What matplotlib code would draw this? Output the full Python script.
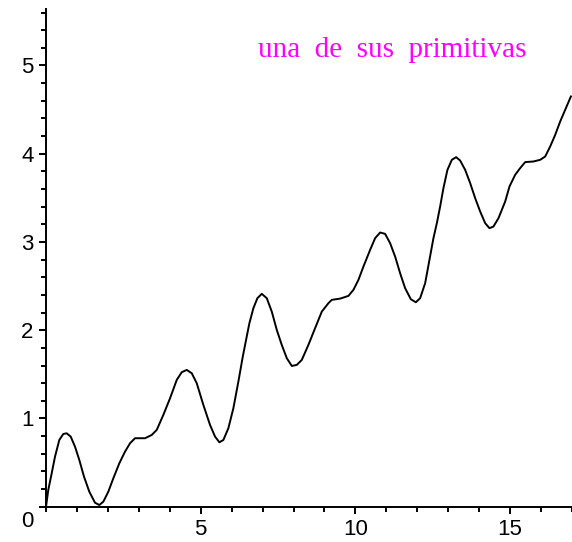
import matplotlib
matplotlib.use("Agg")
import matplotlib.pyplot as plt
from matplotlib.ticker import MultipleLocator

# points
x_vals = [0.0, 0.074, 0.184, 0.291, 0.430, 0.559, 0.669, 0.799, 0.938, 1.077,
          1.229, 1.400, 1.584, 1.723, 1.853, 2.014, 2.176, 2.370, 2.554, 2.716,
          2.877, 3.201, 3.417, 3.579, 3.792, 4.009, 4.226, 4.387, 4.549, 4.711,
          4.872, 5.086, 5.302, 5.464, 5.603, 5.732, 5.894, 6.056, 6.217, 6.360,
          6.466, 6.573, 6.702, 6.832, 6.974, 7.135, 7.297, 7.459, 7.620, 7.782,
          7.944, 8.105, 8.267, 8.480, 8.697, 8.914, 9.127, 9.237, 9.505, 9.774,
          9.935, 10.097, 10.259, 10.475, 10.637, 10.799, 10.960, 11.122, 11.284, 11.445,
          11.607, 11.791, 11.953, 12.092, 12.254, 12.393, 12.522, 12.632, 12.738, 12.845,
          12.974, 13.117, 13.256, 13.385, 13.547, 13.709, 13.870, 14.032, 14.194, 14.333,
          14.462, 14.624, 14.840, 14.979, 15.163, 15.325, 15.487, 15.755, 15.972, 16.133,
          16.295, 16.457, 16.618, 16.780, 16.964]
y_vals = [0.0, 0.19, 0.378, 0.567, 0.756, 0.824, 0.832, 0.794, 0.680, 0.529,
          0.340, 0.170, 0.045, 0.019, 0.057, 0.170, 0.322, 0.492, 0.624, 0.719,
          0.776, 0.776, 0.813, 0.870, 1.040, 1.229, 1.437, 1.524, 1.550, 1.512,
          1.399, 1.153, 0.926, 0.794, 0.730, 0.756, 0.889, 1.116, 1.417, 1.701,
          1.890, 2.079, 2.249, 2.363, 2.412, 2.363, 2.211, 2.003, 1.833, 1.683,
          1.595, 1.607, 1.663, 1.833, 2.023, 2.211, 2.306, 2.344, 2.358, 2.389,
          2.457, 2.570, 2.721, 2.910, 3.043, 3.107, 3.092, 2.986, 2.834, 2.646,
          2.476, 2.351, 2.317, 2.363, 2.533, 2.797, 3.043, 3.213, 3.401, 3.610,
          3.817, 3.931, 3.961, 3.923, 3.817, 3.667, 3.497, 3.345, 3.213, 3.156,
          3.175, 3.270, 3.458, 3.628, 3.761, 3.837, 3.905, 3.912, 3.931, 3.968,
          4.082, 4.214, 4.365, 4.498, 4.649]

x_ticks = [5, 10, 15]
y_ticks = [0, 1, 2, 3, 4, 5]
y_ticklabels = ["", "1", "2", "3", "4", "5"]
origin_label = "0"
title_text = "una  de  sus  primitivas"

fig = plt.figure(figsize=(5.72, 5.42), dpi=100)
ax = fig.add_axes([46 / 572, (542 - 506.7) / 542, 526 / 572, 497.7 / 542])
ax.plot(x_vals, y_vals, color="black", lw=1.4)

ax.set_xlim(0, 17)
ax.set_ylim(0, 5.64)
for s in ["top", "right"]:
    ax.spines[s].set_visible(False)
for s in ["left", "bottom"]:
    ax.spines[s].set_linewidth(1.4)

ax.set_xticks(x_ticks)
ax.set_yticks(y_ticks)
ax.set_yticklabels(y_ticklabels)
ax.xaxis.set_minor_locator(MultipleLocator(1))
ax.yaxis.set_minor_locator(MultipleLocator(0.2))
ax.tick_params(which="major", direction="out", length=5, width=1.4,
               labelsize=16, pad=4)
ax.tick_params(which="minor", direction="out", length=3.5, width=1.4)
for lab in ax.get_xticklabels() + ax.get_yticklabels():
    lab.set_fontfamily("Liberation Sans")

ax.annotate(origin_label, xy=(0, 0), xycoords="data", xytext=(-13, -15),
            textcoords="offset pixels", ha="right", va="center",
            fontsize=16, family="Liberation Sans", annotation_clip=False)

ax.text(6.85, 5.10, title_text, color="#ff00ff", fontsize=21,
        family="Liberation Serif", ha="left", va="baseline")

fig.savefig("out.png", dpi=100)
